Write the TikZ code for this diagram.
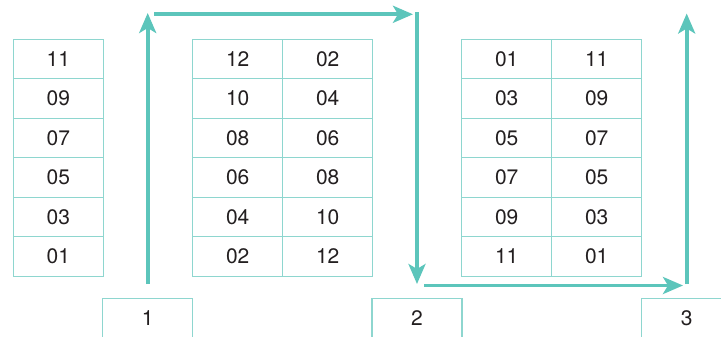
\documentclass[tikz,border=0pt]{standalone}
\usepackage{fontspec}
\setmainfont{TeX Gyre Heros}
\usetikzlibrary{arrows.meta}
\definecolor{arrowteal}{HTML}{5CC5BB}
\definecolor{boxteal}{HTML}{8ED6CF}
\definecolor{txt}{HTML}{231F20}
\tikzset{
  cell/.style={draw=boxteal, line width=1.3pt, minimum width=90pt, minimum height=39.5pt,
    inner sep=0pt, outer sep=0pt, text=txt, font=\fontsize{21}{25}\selectfont, anchor=center},
  flow/.style={draw=arrowteal, line width=3.6pt,
    -{Stealth[length=20pt,width=17pt,inset=5pt]}}
}
\begin{document}
\begin{tikzpicture}[x=1pt,y=-1pt]
\useasboundingbox (0,0) rectangle (721,337);
\clip (0,0) rectangle (721,337);
% table 1
\foreach \v [count=\i] in {11,09,07,05,03,01}
  \node[cell] (ta\i) at (58.3,{39.3+39.5*(\i-0.5)}) {\v};
% table 2
\foreach \v/\w [count=\i] in {12/02,10/04,08/06,06/08,04/10,02/12}{
  \node[cell] (tbl\i) at (237.7,{39.3+39.5*(\i-0.5)}) {\v};
  \node[cell] (tbr\i) at (327.7,{39.3+39.5*(\i-0.5)}) {\w};
}
% table 3
\foreach \v/\w [count=\i] in {01/11,03/09,05/07,07/05,09/03,11/01}{
  \node[cell] (tcl\i) at (506.7,{39.3+39.5*(\i-0.5)}) {\v};
  \node[cell] (tcr\i) at (596.7,{39.3+39.5*(\i-0.5)}) {\w};
}
% bottom boxes
\node[cell] (b1) at (147.7,318.1) {1};
\node[cell] (b2) at (417.0,318.1) {2};
\node[cell] (b3) at (686.7,318.1) {3};
% arrow coordinates
\coordinate (a1s) at (147.7,284);
\coordinate (a1e) at (147.7,13);
\coordinate (a2s) at (154.3,14.3);
\coordinate (a2e) at (413,14.3);
\coordinate (a3s) at (417,12.5);
\coordinate (a3e) at (417,284);
\coordinate (a4s) at (424.3,285.5);
\coordinate (a4e) at (683,285.5);
\coordinate (a5s) at (686.7,284);
\coordinate (a5e) at (686.7,13.5);
\draw[flow] (a1s) -- (a1e);
\draw[flow] (a2s) -- (a2e);
\draw[flow] (a3s) -- (a3e);
\draw[flow] (a4s) -- (a4e);
\draw[flow] (a5s) -- (a5e);
\end{tikzpicture}
\end{document}
